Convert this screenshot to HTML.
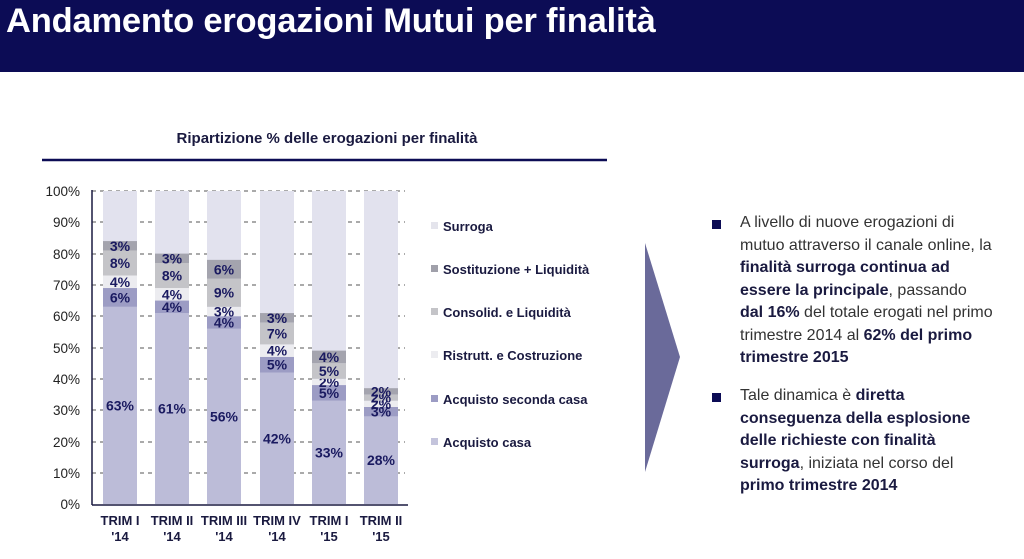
<!DOCTYPE html>
<html><head><meta charset="utf-8"><style>
body{margin:0;width:1024px;height:559px;background:#fff;overflow:hidden;font-family:"Liberation Sans",sans-serif;}
.hdr{position:absolute;left:0;top:0;width:1024px;height:72px;background:#0c0c55;}
.hdr div{position:absolute;left:6px;top:2px;color:#fff;font-size:34.5px;font-weight:bold;letter-spacing:-0.2px;}
.txt{position:absolute;left:740px;font-size:16px;line-height:22.5px;color:#333;white-space:nowrap;}
.txt b{color:#1a1a40}
.bul{position:absolute;left:712px;width:9px;height:9px;background:#0c0c55;}
</style></head><body>
<div class="hdr"><div>Andamento erogazioni Mutui per finalità</div></div>
<svg width="1024" height="559" style="position:absolute;left:0;top:0">
<text x="327" y="143" text-anchor="middle" font-size="15" font-weight="bold" fill="#1a1a40">Ripartizione % delle erogazioni per finalità</text>
<line x1="42" y1="160" x2="607" y2="160" stroke="#0c0c55" stroke-width="2.5"/>
<g font-size="13.5" fill="#222" text-anchor="end">
<text x="80" y="196">100%</text><text x="80" y="227">90%</text><text x="80" y="259">80%</text><text x="80" y="290">70%</text><text x="80" y="321">60%</text><text x="80" y="353">50%</text><text x="80" y="384">40%</text><text x="80" y="415">30%</text><text x="80" y="447">20%</text><text x="80" y="478">10%</text><text x="80" y="509">0%</text>
</g>
<g stroke="#555" stroke-dasharray="4,4" stroke-width="1">
<line x1="92" y1="191" x2="405" y2="191"/><line x1="92" y1="222" x2="405" y2="222"/><line x1="92" y1="254" x2="405" y2="254"/><line x1="92" y1="285" x2="405" y2="285"/><line x1="92" y1="316" x2="405" y2="316"/><line x1="92" y1="348" x2="405" y2="348"/><line x1="92" y1="379" x2="405" y2="379"/><line x1="92" y1="410" x2="405" y2="410"/><line x1="92" y1="442" x2="405" y2="442"/><line x1="92" y1="473" x2="405" y2="473"/>
</g>
<g id="bars"></g>
<line x1="92" y1="190" x2="92" y2="505" stroke="#1a1a40" stroke-width="1.5"/>
<line x1="92" y1="505" x2="408" y2="505" stroke="#1a1a40" stroke-width="1.5"/>
<g font-size="13" font-weight="bold" fill="#1a1a40" text-anchor="middle">
<text x="120" y="525">TRIM I</text><text x="120" y="541">'14</text>
<text x="172" y="525">TRIM II</text><text x="172" y="541">'14</text>
<text x="224" y="525">TRIM III</text><text x="224" y="541">'14</text>
<text x="277" y="525">TRIM IV</text><text x="277" y="541">'14</text>
<text x="329" y="525">TRIM I</text><text x="329" y="541">'15</text>
<text x="381" y="525">TRIM II</text><text x="381" y="541">'15</text>
</g>
<g font-size="13" font-weight="bold" fill="#1a1a40">
<rect x="431" y="222" width="7" height="7" fill="#e4e4ec"/><text x="443" y="231">Surroga</text>
<rect x="431" y="265" width="7" height="7" fill="#a0a0aa"/><text x="443" y="274">Sostituzione + Liquidità</text>
<rect x="431" y="308" width="7" height="7" fill="#c4c4c8"/><text x="443" y="317">Consolid. e Liquidità</text>
<rect x="431" y="351" width="7" height="7" fill="#ececf0"/><text x="443" y="360">Ristrutt. e Costruzione</text>
<rect x="431" y="395" width="7" height="7" fill="#9c9cc4"/><text x="443" y="404">Acquisto seconda casa</text>
<rect x="431" y="438" width="7" height="7" fill="#c4c4dc"/><text x="443" y="447">Acquisto casa</text>
</g>
<polygon points="645,243 680,357 645,472" fill="#6a6a9a"/>
</svg>
<div class="bul" style="top:220px"></div>
<div class="txt" style="top:212px">A livello di nuove erogazioni di<br>mutuo attraverso il canale online, la<br><b>finalità surroga continua ad</b><br><b>essere la principale</b>, passando<br><b>dal 16%</b> del totale erogati nel primo<br>trimestre 2014 al <b>62% del primo</b><br><b>trimestre 2015</b></div>
<div class="bul" style="top:393px"></div>
<div class="txt" style="top:385px">Tale dinamica è <b>diretta</b><br><b>conseguenza della esplosione</b><br><b>delle richieste con finalità</b><br><b>surroga</b>, iniziata nel corso del<br><b>primo trimestre 2014</b></div>
<script>
var d=[[63,6,4,8,3],[61,4,4,8,3],[56,4,3,9,6],[42,5,4,7,3],[33,5,2,5,4],[28,3,2,2,2]];
var sur=[16,21,23,39,51,62];
var cols=["#bcbcd8","#9c9cc4","#ececf0","#c4c4c8","#a4a4ae"];
var cx=[120,172,224,277,329,381],s="";
var b0=504,k=3.13;
for(var i=0;i<6;i++){var x=cx[i]-17;s+='<rect x="'+x+'" y="191" width="34" height="313" fill="#e2e2ee"/>';
var c=0;for(var j=0;j<5;j++){var v=d[i][j];var y1=b0-(c+v)*k;s+='<rect x="'+x+'" y="'+y1+'" width="34" height="'+(v*k)+'" fill="'+cols[j]+'"/>';
s+='<text x="'+cx[i]+'" y="'+(y1+v*k/2+5)+'" text-anchor="middle" font-size="14" font-weight="bold" fill="#1a1a60">'+v+'%</text>';c+=v;}
var top=b0-c*k;s+='<text x="'+cx[i]+'" y="'+((top+191)/2+5)+'" text-anchor="middle" font-size="14" font-weight="bold" fill="#1a1a60">'+sur[i]+'%</text>';}
document.getElementById("bars").innerHTML=s;
</script>
</body></html>
